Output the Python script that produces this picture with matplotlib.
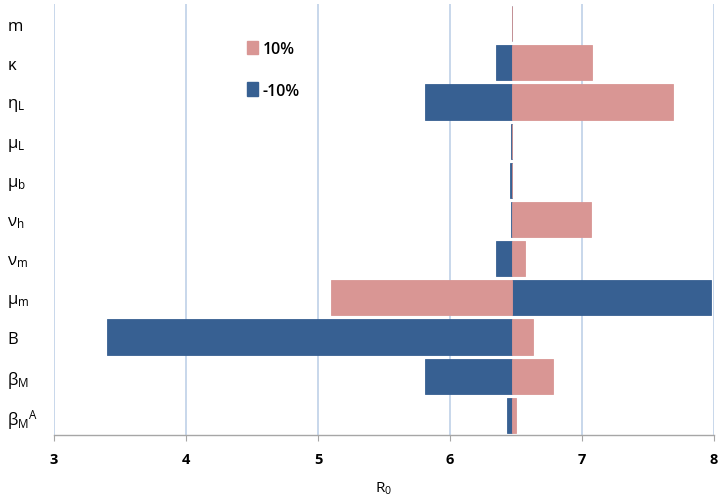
import matplotlib
matplotlib.use("Agg")
import matplotlib.pyplot as plt
from matplotlib.patches import Patch

baseline = 6.467
categories = [r'$\mathregular{m}$', r'$\kappa$', r'$\eta_L$', r'$\mu_L$', r'$\mu_b$', r'$\nu_h$',
              r'$\nu_m$', r'$\mu_m$', r'$\mathregular{B}$', r'$\beta_M$', r'$\beta_M{}^A$']
plus10 = [6.467, 7.076, 7.686, 6.470, 6.467, 7.07, 6.565, 5.10, 6.626, 6.78, 6.50]
minus10 = [6.467, 6.35, 5.81, 6.460, 6.453, 6.462, 6.345, 7.977, 3.40, 5.81, 6.434]
xticks = [3, 4, 5, 6, 7, 8]

pink = '#D99694'
blue = '#376092'

plt.rcParams['font.family'] = ['Open Sans', 'DejaVu Sans']
plt.rcParams['mathtext.fontset'] = 'custom'
plt.rcParams['mathtext.rm'] = 'DejaVu Sans'
plt.rcParams['mathtext.it'] = 'DejaVu Sans'
plt.rcParams['mathtext.default'] = 'regular'

fig = plt.figure(figsize=(7.23, 5.02), dpi=100)
ax = fig.add_axes([0.0747, 0.1315, 0.9129, 0.8585])

ypos = list(range(len(categories)))
h = 0.9
ax.barh(ypos, [v - baseline for v in minus10], left=baseline, height=h,
        color=blue, edgecolor=blue, linewidth=0.6, zorder=3)
ax.barh(ypos, [v - baseline for v in plus10], left=baseline, height=h,
        color=pink, edgecolor=pink, linewidth=0.6, zorder=3)

ax.set_ylim(len(categories) - 0.5, -0.5)
ax.set_xlim(3, 8)
ax.set_xticks(xticks)
ax.set_xticklabels([str(t) for t in xticks], fontsize=10.5, fontweight='bold')
ax.set_yticks(ypos)
ax.set_yticklabels(categories, fontsize=12, ha='left')
ax.tick_params(axis='y', length=0, pad=34)
ax.tick_params(axis='x', length=4, color='#A6A6A6', pad=8)

ax.grid(axis='x', color='#B9CDE5', linewidth=1.1, zorder=0)
ax.set_axisbelow(True)
for s in ['top', 'right', 'left']:
    ax.spines[s].set_visible(False)
ax.spines['bottom'].set_color('#A6A6A6')
ax.spines['bottom'].set_linewidth(1.0)

ax.set_xlabel(r'$\mathregular{R_0}$', fontsize=11, labelpad=10)

handles = [Patch(color=pink, label='10%'), Patch(color=blue, label='-10%')]
ax.legend(handles=handles, loc='upper left', bbox_to_anchor=(0.27, 0.948),
          frameon=False, prop={'size': 11.5, 'weight': 'semibold'},
          labelspacing=1.6, handlelength=0.7,
          handleheight=0.9, handletextpad=0.3)

fig.savefig('out.png', dpi=100)
